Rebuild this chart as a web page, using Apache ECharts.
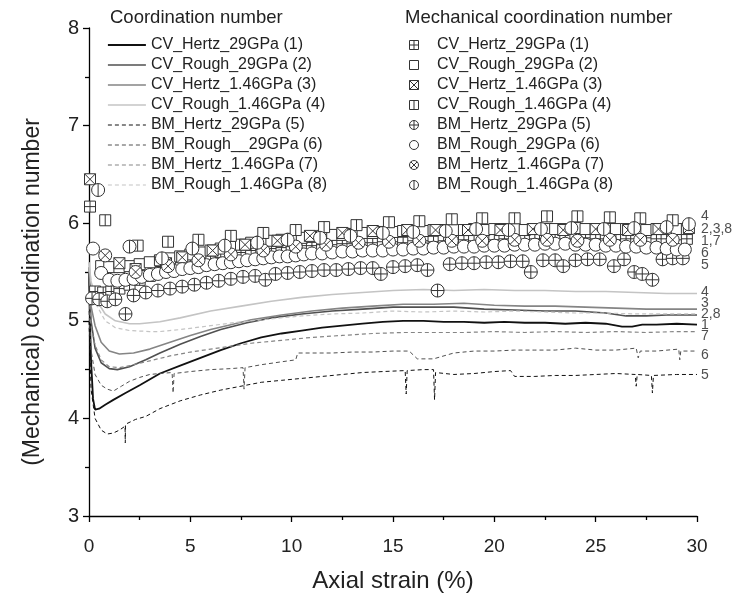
<!DOCTYPE html>
<html>
<head>
<meta charset="utf-8">
<script src="https://cdn.jsdelivr.net/npm/echarts@6/dist/echarts.min.js"></script>
<style>
  html, body { margin: 0; padding: 0; background: #fff; }
  #chart { width: 733px; height: 598px; }
</style>
</head>
<body>
<div id="chart"></div>
<script>
// axis ticks
const xTicks = [0, 5, 10, 15, 20, 25, 30];
const yTicks = [3, 4, 5, 6, 7, 8];

// coordination number curves [strain %, value]
const lineNames = [
  "CV_Hertz_29GPa (1)", "CV_Rough_29GPa (2)", "CV_Hertz_1.46GPa (3)", "CV_Rough_1.46GPa (4)",
  "BM_Hertz_29GPa (5)", "BM_Rough__29GPa (6)", "BM_Hertz_1.46GPa (7)", "BM_Rough_1.46GPa (8)"
];
const cvHertz29 = [[0,5.5],[0.05,5.0],[0.1,4.6],[0.2,4.2],[0.3,4.09],[0.5,4.1],[0.8,4.14],[1.2,4.19],[1.8,4.26],[2.5,4.34],[3.5,4.46],[4.5,4.54],[5.5,4.62],[6.5,4.7],[7.5,4.77],[8.5,4.83],[9.5,4.87],[10.5,4.9],[11.5,4.93],[12.5,4.95],[13.5,4.97],[14.5,4.99],[15.5,5.0],[16.5,5.0],[17.5,4.99],[18.5,4.99],[19.5,4.98],[20.5,4.99],[21.5,4.98],[22.5,4.98],[23.5,4.97],[24.5,4.98],[25.5,4.97],[26.3,4.94],[26.8,4.94],[27.3,4.96],[28,4.96],[29,4.97],[30,4.96]];
const cvRough29 = [[0,5.5],[0.1,5.0],[0.3,4.72],[0.6,4.57],[1.0,4.51],[1.4,4.5],[2,4.53],[2.8,4.6],[3.5,4.67],[4.5,4.76],[5.5,4.84],[6.5,4.91],[7.8,4.98],[9,5.03],[10.5,5.07],[12,5.1],[13.5,5.12],[15,5.14],[16.5,5.14],[18,5.14],[19.5,5.12],[21,5.11],[22.5,5.1],[24,5.1],[25.5,5.08],[26.5,5.05],[27.5,5.05],[28.5,5.06],[30,5.06]];
const cvHertz146 = [[0,5.55],[0.1,5.15],[0.3,4.95],[0.6,4.78],[1.0,4.69],[1.5,4.66],[2.2,4.67],[3,4.71],[4,4.78],[5,4.85],[6,4.91],[7,4.96],[8,5.01],[9.5,5.06],[11,5.1],[12.5,5.13],[14,5.15],[15.5,5.17],[17,5.17],[18.5,5.18],[20,5.16],[21.5,5.15],[23,5.15],[24.5,5.14],[26,5.13],[27.5,5.12],[29,5.12],[30,5.12]];
const cvRough146 = [[0,5.6],[0.1,5.4],[0.4,5.2],[0.8,5.07],[1.3,5.0],[2,4.97],[2.5,4.97],[3.5,4.99],[4.5,5.03],[6,5.1],[7.5,5.15],[9,5.2],[10.5,5.24],[12,5.27],[13.5,5.29],[15,5.31],[16.5,5.32],[18,5.31],[19.5,5.32],[21,5.31],[22.5,5.31],[24,5.3],[25.5,5.3],[27,5.29],[28.5,5.28],[30,5.28]];
const bmHertz29 = [[0,5.0],[0.1,4.3],[0.3,4.0],[0.6,3.88],[0.9,3.84],[1.2,3.85],[1.5,3.88],[1.78,3.92],[1.79,3.75],[1.8,3.94],[2.3,3.99],[2.8,4.02],[3.5,4.1],[4.5,4.18],[5.5,4.24],[6.5,4.29],[7.5,4.33],[8.5,4.37],[9.5,4.39],[10.5,4.41],[11.5,4.43],[12.5,4.45],[13.5,4.47],[14.5,4.48],[15.6,4.49],[15.65,4.25],[15.7,4.49],[16.5,4.5],[17.0,4.5],[17.05,4.19],[17.1,4.47],[18,4.45],[19,4.46],[20,4.48],[20.8,4.49],[21,4.43],[22,4.43],[23,4.44],[24,4.44],[25,4.45],[26,4.46],[26.95,4.45],[27.0,4.33],[27.05,4.45],[27.75,4.44],[27.8,4.26],[27.85,4.44],[29,4.45],[30,4.45]];
const bmRough29 = [[0,5.1],[0.1,4.7],[0.3,4.45],[0.6,4.34],[0.9,4.3],[1.2,4.28],[1.6,4.33],[2,4.38],[2.5,4.42],[3,4.45],[3.5,4.46],[4.1,4.47],[4.15,4.26],[4.2,4.46],[5,4.48],[6,4.5],[7,4.51],[7.6,4.52],[7.65,4.3],[7.7,4.52],[8.5,4.55],[9.5,4.58],[10.2,4.6],[10.3,4.67],[11,4.67],[12,4.67],[13,4.68],[14,4.68],[15,4.69],[15.8,4.69],[16.2,4.61],[17,4.61],[18,4.67],[19,4.69],[20,4.69],[21,4.7],[22,4.7],[23,4.7],[24,4.72],[25,4.7],[26,4.7],[27,4.72],[27.1,4.62],[27.2,4.69],[28,4.69],[29.1,4.71],[29.15,4.6],[29.2,4.69],[30,4.69]];
const bmHertz146 = [[0,5.3],[0.1,4.95],[0.3,4.75],[0.6,4.6],[1.0,4.53],[1.5,4.52],[2,4.54],[3,4.59],[4,4.64],[5,4.68],[6,4.71],[7,4.74],[8,4.77],[9.5,4.8],[11,4.83],[12.5,4.85],[14,4.87],[15.5,4.88],[17,4.88],[18.5,4.88],[20,4.89],[21.5,4.88],[23,4.89],[24.5,4.88],[26,4.89],[27.5,4.88],[29,4.89],[30,4.89]];
const bmRough146 = [[0,5.6],[0.1,5.4],[0.4,5.15],[0.8,5.0],[1.3,4.93],[2,4.9],[3,4.89],[3.5,4.89],[4.5,4.91],[6,4.95],[7.5,4.99],[9,5.02],[10.5,5.05],[12,5.07],[13.5,5.08],[15,5.1],[16.5,5.09],[18,5.1],[19.5,5.09],[21,5.1],[22.5,5.09],[24,5.08],[25.5,5.08],[27,5.07],[28.5,5.07],[30,5.07]];

// mechanical coordination number markers [strain %, value]
const mechNames = [
  "CV_Hertz_29GPa (1)", "CV_Rough_29GPa (2)", "CV_Hertz_1.46GPa (3)", "CV_Rough_1.46GPa (4)",
  "BM_Hertz_29GPa (5)", "BM_Rough_29GPa (6)", "BM_Hertz_1.46GPa (7)", "BM_Rough_1.46GPa (8)"
];
const mCvHertz29 = [[0.05,6.17],[0.3,5.3],[0.7,5.29],[1.1,5.3],[1.5,5.33],[2.0,5.37],[2.5,5.42],[3.0,5.46],[3.5,5.5],[4.0,5.53],[4.5,5.56],[5.0,5.58],[5.5,5.6],[6.0,5.62],[6.5,5.65],[7.0,5.68],[7.5,5.7],[8.0,5.72],[8.5,5.73],[9.0,5.74],[9.5,5.75],[10.0,5.76],[10.5,5.77],[11.0,5.77],[11.5,5.78],[12.0,5.78],[12.5,5.79],[13.0,5.79],[13.5,5.8],[14.0,5.8],[14.5,5.81],[15.0,5.81],[15.5,5.8],[16.0,5.82],[16.5,5.82],[17.0,5.81],[17.5,5.82],[18.0,5.83],[18.5,5.83],[19.0,5.82],[19.5,5.83],[20.0,5.83],[20.5,5.84],[21.0,5.84],[21.5,5.83],[22.0,5.84],[22.5,5.84],[23.0,5.83],[23.5,5.84],[24.0,5.84],[24.5,5.85],[25.0,5.84],[25.5,5.84],[26.0,5.83],[26.5,5.84],[27.0,5.84],[27.5,5.85],[28.0,5.84],[28.5,5.84],[29.0,5.83],[29.5,5.84]];
const mCvRough29 = [[0.6,5.56],[1.0,5.55],[1.5,5.55],[2.0,5.56],[2.5,5.58],[3.0,5.6],[3.5,5.62],[4.0,5.64],[4.5,5.66],[5.0,5.68],[5.5,5.7],[6.0,5.72],[6.5,5.74],[7.0,5.76],[7.5,5.78],[8.0,5.8],[8.5,5.81],[9.0,5.82],[9.5,5.83],[10.0,5.84],[10.5,5.85],[11.0,5.86],[11.5,5.87],[12.0,5.88],[12.5,5.88],[13.0,5.89],[13.5,5.9],[14.0,5.9],[14.5,5.91],[15.0,5.91],[15.5,5.92],[16.0,5.92],[16.5,5.92],[17.0,5.93],[17.5,5.93],[18.0,5.93],[18.5,5.93],[19.0,5.94],[19.5,5.93],[20.0,5.94],[20.5,5.94],[21.0,5.94],[21.5,5.93],[22.0,5.94],[22.5,5.94],[23.0,5.94],[23.5,5.94],[24.0,5.95],[24.5,5.94],[25.0,5.94],[25.5,5.94],[26.0,5.94],[26.5,5.94],[27.0,5.94],[27.5,5.93],[28.0,5.94],[28.5,5.94],[29.0,5.94],[29.5,5.94]];
const mCvHertz146 = [[0.05,6.45],[1.5,5.59],[2.3,5.53],[3.8,5.59],[4.6,5.65],[6.1,5.72],[7.7,5.78],[9.3,5.82],[10.9,5.87],[12.5,5.9],[14.0,5.92],[15.7,5.93],[17.1,5.93],[18.7,5.93],[20.3,5.93],[21.9,5.94],[23.4,5.93],[25.0,5.94],[26.6,5.93],[28.1,5.94],[29.6,5.95]];
const mCvRough146 = [[0.8,6.03],[2.4,5.77],[3.9,5.81],[5.4,5.83],[7.0,5.87],[8.6,5.9],[10.2,5.93],[11.6,5.96],[13.2,5.98],[14.8,6.01],[16.3,6.02],[17.9,6.04],[19.4,6.05],[21.0,6.05],[22.6,6.07],[24.1,6.07],[25.7,6.06],[27.2,6.05],[28.8,6.03]];
const mBmHertz29 = [[0.15,5.23],[0.5,5.22],[0.9,5.2],[1.3,5.22],[1.8,5.07],[2.2,5.26],[2.8,5.29],[3.4,5.31],[4.0,5.33],[4.6,5.35],[5.2,5.37],[5.8,5.39],[6.4,5.41],[7.0,5.43],[7.6,5.45],[8.2,5.46],[8.7,5.42],[9.2,5.48],[9.8,5.49],[10.4,5.5],[11.0,5.51],[11.6,5.52],[12.2,5.52],[12.8,5.53],[13.4,5.54],[14.0,5.54],[14.4,5.48],[15.0,5.55],[15.6,5.56],[16.2,5.57],[16.7,5.52],[17.2,5.31],[17.8,5.58],[18.4,5.59],[19.0,5.59],[19.6,5.6],[20.2,5.6],[20.8,5.61],[21.4,5.61],[21.8,5.5],[22.4,5.62],[23.0,5.62],[23.4,5.56],[24.0,5.62],[24.6,5.63],[25.2,5.63],[25.9,5.56],[26.4,5.63],[26.9,5.5],[27.3,5.48],[27.8,5.42],[28.3,5.63],[28.8,5.64],[29.3,5.64]];
const mBmRough29 = [[0.2,5.74],[0.6,5.49],[1.0,5.42],[1.4,5.41],[1.8,5.42],[2.2,5.43],[2.6,5.45],[3.0,5.47],[3.4,5.48],[3.8,5.5],[4.2,5.51],[4.6,5.53],[5.0,5.54],[5.4,5.55],[5.8,5.57],[6.2,5.58],[6.6,5.59],[7.0,5.6],[7.4,5.61],[7.8,5.62],[8.2,5.63],[8.6,5.64],[9.0,5.65],[9.4,5.66],[9.8,5.66],[10.2,5.67],[10.6,5.68],[11.0,5.69],[11.5,5.69],[12.0,5.7],[12.5,5.71],[13.0,5.71],[13.5,5.72],[14.0,5.72],[14.5,5.72],[15.0,5.73],[15.5,5.73],[16.0,5.74],[16.5,5.74],[17.0,5.75],[17.5,5.75],[18.0,5.76],[18.5,5.76],[19.0,5.76],[19.5,5.77],[20.0,5.77],[20.5,5.77],[21.0,5.78],[21.5,5.78],[22.0,5.78],[22.5,5.79],[23.0,5.79],[23.5,5.79],[24.0,5.78],[24.5,5.78],[25.0,5.78],[25.5,5.77],[26.0,5.77],[26.5,5.76],[27.0,5.76],[27.5,5.75],[28.0,5.75],[28.5,5.74],[29.0,5.73],[29.4,5.73]];
const mBmHertz146 = [[0.8,5.67],[2.3,5.5],[3.9,5.56],[5.4,5.62],[7.0,5.68],[8.6,5.72],[10.2,5.76],[11.7,5.78],[13.3,5.8],[14.8,5.81],[16.3,5.82],[17.9,5.82],[19.4,5.82],[21.0,5.83],[22.6,5.83],[24.1,5.82],[25.7,5.83],[27.2,5.83],[28.8,5.83]];
const mBmRough146 = [[0.45,6.34],[2.0,5.76],[3.6,5.64],[5.1,5.74],[6.7,5.77],[8.3,5.8],[9.8,5.83],[11.4,5.85],[12.9,5.87],[14.5,5.9],[16.0,5.91],[17.6,5.92],[19.1,5.94],[20.7,5.93],[22.3,5.94],[23.8,5.95],[25.4,5.94],[26.9,5.95],[28.5,5.96],[29.6,5.99]];

// series tags at the right edge
const endTags = ["4", "2,3,8", "1,7", "6", "5", "4", "3", "2,8", "1", "7", "6", "5"];
const endTagValues = [6.07, 5.94, 5.82, 5.69, 5.57, 5.29, 5.18, 5.07, 4.96, 4.84, 4.65, 4.44];

const lineData = [cvHertz29, cvRough29, cvHertz146, cvRough146, bmHertz29, bmRough29, bmHertz146, bmRough146];
const lineColors = ["#111", "#505050", "#858585", "#c4c4c4", "#111", "#505050", "#858585", "#c4c4c4"];
const lineWidths = [1.8, 1.6, 1.6, 1.6, 1, 1, 1.2, 1.2];

const mechData = [mCvHertz29, mCvRough29, mCvHertz146, mCvRough146, mBmHertz29, mBmRough29, mBmHertz146, mBmRough146];
const ring = "M0,5A5,5,0,1,1,10,5A5,5,0,1,1,0,5Z";
const box = "M0,0L10,0L10,10L0,10Z";
const mechSymbols = [
  "path://" + box + "M5,0L5,10M0,5L10,5",
  "path://" + box,
  "path://" + box + "M0,0L10,10M10,0L0,10",
  "path://" + box + "M5,0L5,10",
  "path://" + ring + "M5,0L5,10M0,5L10,5",
  "path://" + ring,
  "path://" + ring + "M1.46,1.46L8.54,8.54M8.54,1.46L1.46,8.54",
  "path://" + ring + "M5,0L5,10"
];
const mechSizes = [11, 11, 11, 11, 13, 13, 13, 13];

const chart = echarts.init(document.getElementById("chart"));

const series = [];
lineData.forEach((d, i) => {
  series.push({
    name: lineNames[i],
    type: "line",
    data: d,
    symbol: "none",
    z: 2,
    itemStyle: { color: lineColors[i] },
    lineStyle: { color: lineColors[i], width: lineWidths[i], type: i < 4 ? "solid" : [4, 3] }
  });
});
mechData.forEach((d, i) => {
  series.push({
    name: "M " + mechNames[i],
    type: "scatter",
    data: d,
    symbol: mechSymbols[i],
    symbolSize: mechSizes[i],
    symbolKeepAspect: true,
    z: 3,
    itemStyle: { color: "#fff", borderColor: "#333", borderWidth: 1, opacity: 1 }
  });
});
series.push({
  name: "tags",
  type: "scatter",
  symbolSize: 0,
  z: 4,
  data: endTags.map((t, i) => ({ name: t, value: [30, endTagValues[i]] })),
  label: {
    show: true, position: "right", distance: 4,
    formatter: p => p.name,
    fontFamily: "Liberation Sans", fontSize: 14, color: "#222"
  }
});

const legendText = { fontFamily: "Liberation Sans", fontSize: 16, color: "#222" };

chart.setOption({
  animation: false,
  backgroundColor: "#fff",
  grid: { left: 89, right: 36, top: 28, bottom: 79 },
  graphic: [
    { type: "text", left: 110, top: 8, style: { text: "Coordination number", font: "18.5px 'Liberation Sans'", fill: "#222" } },
    { type: "text", left: 405, top: 8, style: { text: "Mechanical coordination number", font: "18.5px 'Liberation Sans'", fill: "#222" } },
    {
      type: "text", x: 33, y: 292, rotation: Math.PI / 2,
      style: { text: "(Mechanical) coordination number", font: "23px 'Liberation Sans'", fill: "#222", align: "center", verticalAlign: "middle" }
    }
  ],
  legend: [
    {
      data: lineNames, orient: "vertical", left: 102, top: 32,
      itemWidth: 38, itemHeight: 14, itemGap: 4, selectedMode: false,
      itemStyle: { opacity: 0 },
      lineStyle: { width: "inherit" }, textStyle: legendText
    },
    {
      data: mechNames.map(n => "M " + n), orient: "vertical", left: 404, top: 32,
      itemWidth: 36, itemHeight: 9, itemGap: 4, selectedMode: false,
      itemStyle: { borderWidth: 1 },
      formatter: n => n.slice(2), textStyle: legendText
    }
  ],
  xAxis: {
    type: "value", min: xTicks[0], max: xTicks[xTicks.length - 1], interval: 5,
    name: "Axial strain (%)", nameLocation: "middle", nameGap: 53,
    nameTextStyle: { fontFamily: "Liberation Sans", fontSize: 24, color: "#222" },
    axisLine: { onZero: false, lineStyle: { color: "#000", width: 1.3 } },
    axisTick: { length: 6, lineStyle: { color: "#000", width: 1.3 } },
    minorTick: { show: true, splitNumber: 2, length: 4, lineStyle: { color: "#000", width: 1.3 } },
    axisLabel: { margin: 21, fontFamily: "Liberation Sans", fontSize: 19, color: "#222" },
    splitLine: { show: false }
  },
  yAxis: {
    type: "value", min: yTicks[0], max: yTicks[yTicks.length - 1], interval: 1,
    axisLine: { show: true, onZero: false, lineStyle: { color: "#000", width: 1.3 } },
    axisTick: { show: true, length: 6, lineStyle: { color: "#000", width: 1.3 } },
    minorTick: { show: true, splitNumber: 2, length: 4, lineStyle: { color: "#000", width: 1.3 } },
    axisLabel: { margin: 10, fontFamily: "Liberation Sans", fontSize: 20, color: "#222" },
    splitLine: { show: false }
  },
  series: series
});
window.addEventListener("resize", () => chart.resize());
</script>
</body>
</html>
